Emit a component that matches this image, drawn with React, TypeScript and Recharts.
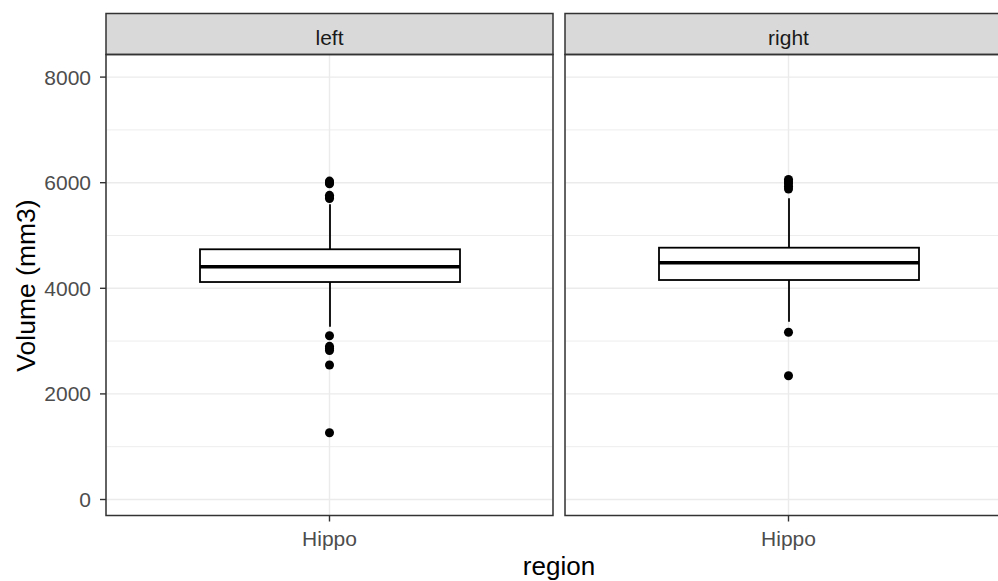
import React from 'react'
import { ComposedChart, Bar, Scatter, CartesianGrid, XAxis, YAxis } from 'recharts'

// facets and the single category
const hemispheres = ['left', 'right']
const regions = ['Hippo']

// box statistics per hemisphere (mm3)
const lowerWhisker = [3273, 3367]
const q1 = [4119, 4157]
const median = [4409, 4485]
const q3 = [4739, 4769]
const upperWhisker = [5590, 5705]

// outliers
const leftOutliers = [6030, 6000, 5980, 5760, 5730, 5700, 3102, 2900, 2860, 2822, 2547, 1265]
const rightOutliers = [6060, 6020, 5980, 5930, 5880, 3167, 2345]

const yTicks = [0, 2000, 4000, 6000, 8000]
const yMinor = [1000, 3000, 5000, 7000]
const yDomain = [-303, 8428]

const FONT = '"Liberation Sans", Arial, sans-serif'

const BoxShape = (props: any) => {
  const { x, y, width, height, payload } = props
  const [lo, hi] = payload.range
  const toY = (v: number) => y + ((hi - v) / (hi - lo)) * height
  const cx = x + width / 2
  return (
    <g>
      <line x1={cx} x2={cx} y1={toY(hi)} y2={toY(payload.q3)} stroke="#000" strokeWidth={1.8} />
      <line x1={cx} x2={cx} y1={toY(payload.q1)} y2={toY(lo)} stroke="#000" strokeWidth={1.8} />
      <rect
        x={x}
        y={toY(payload.q3)}
        width={width}
        height={toY(payload.q1) - toY(payload.q3)}
        fill="#fff"
        stroke="#000"
        strokeWidth={1.8}
      />
      <line x1={x} x2={x + width} y1={toY(payload.median)} y2={toY(payload.median)} stroke="#000" strokeWidth={3.4} />
    </g>
  )
}

const Panel = ({ idx, left }: { idx: number; left: number }) => {
  const showY = idx === 0
  const data = regions.map((r) => ({
    region: r,
    range: [lowerWhisker[idx], upperWhisker[idx]],
    q1: q1[idx],
    median: median[idx],
    q3: q3[idx],
  }))
  const outl = (idx === 0 ? leftOutliers : rightOutliers).map((v) => ({ region: regions[0], volume: v }))
  const width = showY ? 553 : 447
  return (
    <div style={{ position: 'absolute', left, top: 0 }}>
      <ComposedChart width={width} height={581} data={data} margin={{ top: 54.5, right: 0, bottom: 0, left: 0 }}>
        <CartesianGrid horizontal vertical={false} horizontalValues={yMinor} stroke="#ebebeb" strokeWidth={0.9} />
        <CartesianGrid horizontal vertical={false} horizontalValues={yTicks} stroke="#ebebeb" strokeWidth={1.4} />
        <CartesianGrid horizontal={false} vertical stroke="#ebebeb" strokeWidth={1.4} />
        <XAxis
          dataKey="region"
          type="category"
          allowDuplicatedCategory={false}
          height={65.5}
          axisLine={false}
          tickSize={6}
          tickMargin={9.5}
          tickLine={{ stroke: '#333', strokeWidth: 1.4 }}
          tick={{ fill: '#4d4d4d', fontSize: 21, fontFamily: FONT }}
        />
        <YAxis
          type="number"
          domain={yDomain}
          allowDataOverflow
          ticks={yTicks}
          width={106}
          hide={!showY}
          axisLine={false}
          tickSize={6}
          tickMargin={9}
          tickLine={{ stroke: '#333', strokeWidth: 1.4 }}
          tick={{ fill: '#4d4d4d', fontSize: 21, fontFamily: FONT }}
        />
        <Bar dataKey="range" barSize={260} shape={BoxShape} isAnimationActive={false} />
        <Scatter data={outl} dataKey="volume" fill="#000" isAnimationActive={false} />
      </ComposedChart>
    </div>
  )
}

const App = () => {
  const panelLeft = [106, 565]
  const panelW = 447
  return (
    <div
      style={{
        position: 'absolute',
        left: 0,
        top: 0,
        width: 998,
        height: 581,
        overflow: 'hidden',
        background: '#fff',
        fontFamily: FONT,
      }}
    >
      <Panel idx={0} left={0} />
      <Panel idx={1} left={565} />
      <svg width={998} height={581} style={{ position: 'absolute', left: 0, top: 0, pointerEvents: 'none' }}>
        {hemispheres.map((h, i) => (
          <g key={h}>
            <rect x={panelLeft[i]} y={13.5} width={panelW} height={41} fill="#d9d9d9" stroke="#333" strokeWidth={1.5} />
            <text x={panelLeft[i] + panelW / 2} y={45} textAnchor="middle" fontSize={21} fill="#1a1a1a" fontFamily={FONT}>
              {h}
            </text>
            <rect x={panelLeft[i]} y={54.5} width={panelW} height={461} fill="none" stroke="#333" strokeWidth={1.5} />
          </g>
        ))}
        <text
          x={35}
          y={285.5}
          transform="rotate(-90 35 285.5)"
          textAnchor="middle"
          fontSize={26.5}
          fill="#000"
          fontFamily={FONT}
        >
          Volume (mm3)
        </text>
        <text x={559} y={575} textAnchor="middle" fontSize={26} fill="#000" fontFamily={FONT}>
          region
        </text>
      </svg>
    </div>
  )
}

export default App
